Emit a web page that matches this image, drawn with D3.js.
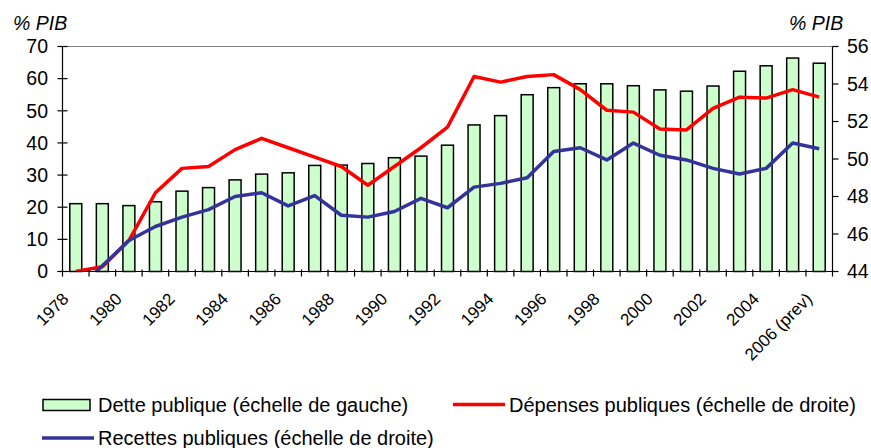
<!DOCTYPE html>
<html>
<head>
<meta charset="utf-8">
<script src="https://cdn.jsdelivr.net/npm/d3@7"></script>
<style>
    body { margin: 0; background: #fff; }
    svg { display: block; font-family: "Liberation Sans", Arial, sans-serif; }
</style>
</head>
<body>
<svg id="chart"></svg>
<script>
// years shown on the x axis (one bar per year)
const years = [1978, 1979, 1980, 1981, 1982, 1983, 1984, 1985, 1986, 1987,
    1988, 1989, 1990, 1991, 1992, 1993, 1994, 1995, 1996, 1997,
    1998, 1999, 2000, 2001, 2002, 2003, 2004, 2005, 2006];

// only every other year gets a label
const tickLabels = {
    1978: "1978", 1980: "1980", 1982: "1982", 1984: "1984", 1986: "1986",
    1988: "1988", 1990: "1990", 1992: "1992", 1994: "1994", 1996: "1996",
    1998: "1998", 2000: "2000", 2002: "2002", 2004: "2004", 2006: "2006 (prev)"
};

// % PIB, left scale
const dette = [21.1, 21.1, 20.5, 21.7, 25.0, 26.1, 28.5, 30.3, 30.7, 33.0,
    33.1, 33.6, 35.4, 35.9, 39.3, 45.6, 48.5, 55.0, 57.2, 58.4,
    58.4, 57.8, 56.5, 56.1, 57.7, 62.3, 64.0, 66.4, 64.8];

// % PIB, right scale
const depenses = [44.0, 44.25, 45.65, 48.2, 49.5, 49.6, 50.5, 51.1, 50.6, 50.1,
    49.6, 48.6, 49.6, 50.6, 51.7, 54.4, 54.1, 54.4, 54.5, 53.7,
    52.6, 52.5, 51.6, 51.55, 52.7, 53.3, 53.25, 53.7, 53.3];

const recettes = [43.0, 44.3, 45.65, 46.4, 46.9, 47.3, 48.0, 48.2, 47.5, 48.05,
    47.0, 46.9, 47.2, 47.9, 47.4, 48.5, 48.7, 49.0, 50.4, 50.6,
    49.95, 50.85, 50.2, 49.95, 49.5, 49.2, 49.5, 50.85, 50.55];

const leftTicks = [0, 10, 20, 30, 40, 50, 60, 70];
const rightTicks = [44, 46, 48, 50, 52, 54, 56];

const width = 871, height = 448;
const plot = { left: 62.5, right: 832.5, top: 46.5, bottom: 271.5 };

const svg = d3.select("#chart")
    .attr("width", width)
    .attr("height", height);

const x = d3.scaleBand()
    .domain(years)
    .range([plot.left, plot.right])
    .paddingInner(0.55)
    .paddingOuter(0.275);

const xEdge = d3.scaleLinear()
    .domain([0, years.length])
    .range([plot.left, plot.right]);

const yLeft = d3.scaleLinear().domain([0, 70]).range([plot.bottom, plot.top]);
const yRight = d3.scaleLinear().domain([44, 56]).range([plot.bottom, plot.top]);

const cx = (d) => x(d) + x.bandwidth() / 2;

svg.append("clipPath").attr("id", "plot-clip")
    .append("rect")
    .attr("x", plot.left)
    .attr("y", plot.top)
    .attr("width", plot.right - plot.left)
    .attr("height", plot.bottom - plot.top);

// plot area top border
svg.append("line")
    .attr("x1", plot.left).attr("x2", plot.right)
    .attr("y1", plot.top).attr("y2", plot.top)
    .attr("stroke", "#808080")
    .attr("stroke-width", 1);

// bars
svg.append("g").selectAll("rect")
    .data(years)
    .join("rect")
    .attr("x", (d) => x(d))
    .attr("y", (d, i) => yLeft(dette[i]))
    .attr("width", x.bandwidth())
    .attr("height", (d, i) => yLeft(0) - yLeft(dette[i]))
    .attr("fill", "#CCFFCC")
    .attr("stroke", "#000")
    .attr("stroke-width", 1.5);

// lines
const lineG = svg.append("g").attr("clip-path", "url(#plot-clip)");

const makeLine = (values) => d3.line()
    .x((d) => cx(d))
    .y((d, i) => yRight(values[i]));

lineG.append("path")
    .datum(years)
    .attr("d", makeLine(depenses))
    .attr("fill", "none")
    .attr("stroke", "#FF0000")
    .attr("stroke-width", 3.5)
    .attr("stroke-linejoin", "round");

lineG.append("path")
    .datum(years)
    .attr("d", makeLine(recettes))
    .attr("fill", "none")
    .attr("stroke", "#333399")
    .attr("stroke-width", 3.5)
    .attr("stroke-linejoin", "round");

// axes
const axisG = svg.append("g").attr("stroke", "#000").attr("stroke-width", 1.2);

axisG.append("line")
    .attr("x1", plot.left).attr("x2", plot.left)
    .attr("y1", plot.top).attr("y2", plot.bottom);
axisG.append("line")
    .attr("x1", plot.right).attr("x2", plot.right)
    .attr("y1", plot.top).attr("y2", plot.bottom);
axisG.append("line")
    .attr("x1", plot.left - 5).attr("x2", plot.right + 5)
    .attr("y1", plot.bottom).attr("y2", plot.bottom);

axisG.selectAll(".tick-left")
    .data(leftTicks)
    .join("line")
    .attr("x1", plot.left - 5).attr("x2", plot.left + 5)
    .attr("y1", (d) => yLeft(d)).attr("y2", (d) => yLeft(d));

axisG.selectAll(".tick-right")
    .data(rightTicks)
    .join("line")
    .attr("x1", plot.right).attr("x2", plot.right + 6)
    .attr("y1", (d) => yRight(d)).attr("y2", (d) => yRight(d));

axisG.selectAll(".tick-x")
    .data(d3.range(years.length + 1))
    .join("line")
    .attr("x1", (d) => xEdge(d)).attr("x2", (d) => xEdge(d))
    .attr("y1", plot.bottom - 2).attr("y2", plot.bottom + 5);

svg.append("g")
    .selectAll("text")
    .data(leftTicks)
    .join("text")
    .attr("x", 48)
    .attr("y", (d) => yLeft(d))
    .attr("dy", "0.35em")
    .attr("text-anchor", "end")
    .attr("font-size", 19.5)
    .text((d) => d);

svg.append("g")
    .selectAll("text")
    .data(rightTicks)
    .join("text")
    .attr("x", 847)
    .attr("y", (d) => yRight(d))
    .attr("dy", "0.35em")
    .attr("font-size", 19.5)
    .text((d) => d);

svg.append("g")
    .selectAll("text")
    .data(years.filter((d) => tickLabels[d]))
    .join("text")
    .attr("transform", (d) => `translate(${cx(d) - 6}, 300) rotate(-45)`)
    .attr("text-anchor", "end")
    .attr("font-size", 17)
    .text((d) => tickLabels[d]);

// axis units
svg.append("text")
    .attr("x", 13).attr("y", 30)
    .attr("font-size", 19.5)
    .attr("font-style", "italic")
    .text("% PIB");
svg.append("text")
    .attr("x", 789).attr("y", 30)
    .attr("font-size", 19.5)
    .attr("font-style", "italic")
    .text("% PIB");

// legend
const legend = svg.append("g").attr("font-size", 20);

legend.append("rect")
    .attr("x", 43).attr("y", 399.5)
    .attr("width", 47).attr("height", 11)
    .attr("fill", "#CCFFCC")
    .attr("stroke", "#000")
    .attr("stroke-width", 1.5);
legend.append("text").attr("x", 98).attr("y", 411.5)
    .text("Dette publique (échelle de gauche)");

legend.append("line")
    .attr("x1", 453).attr("x2", 505)
    .attr("y1", 404.5).attr("y2", 404.5)
    .attr("stroke", "#FF0000").attr("stroke-width", 3.5);
legend.append("text").attr("x", 509).attr("y", 411.5)
    .text("Dépenses publiques (échelle de droite)");

legend.append("line")
    .attr("x1", 42).attr("x2", 94)
    .attr("y1", 438).attr("y2", 438)
    .attr("stroke", "#333399").attr("stroke-width", 3.5);
legend.append("text").attr("x", 98).attr("y", 445)
    .text("Recettes publiques (échelle de droite)");
</script>
</body>
</html>
